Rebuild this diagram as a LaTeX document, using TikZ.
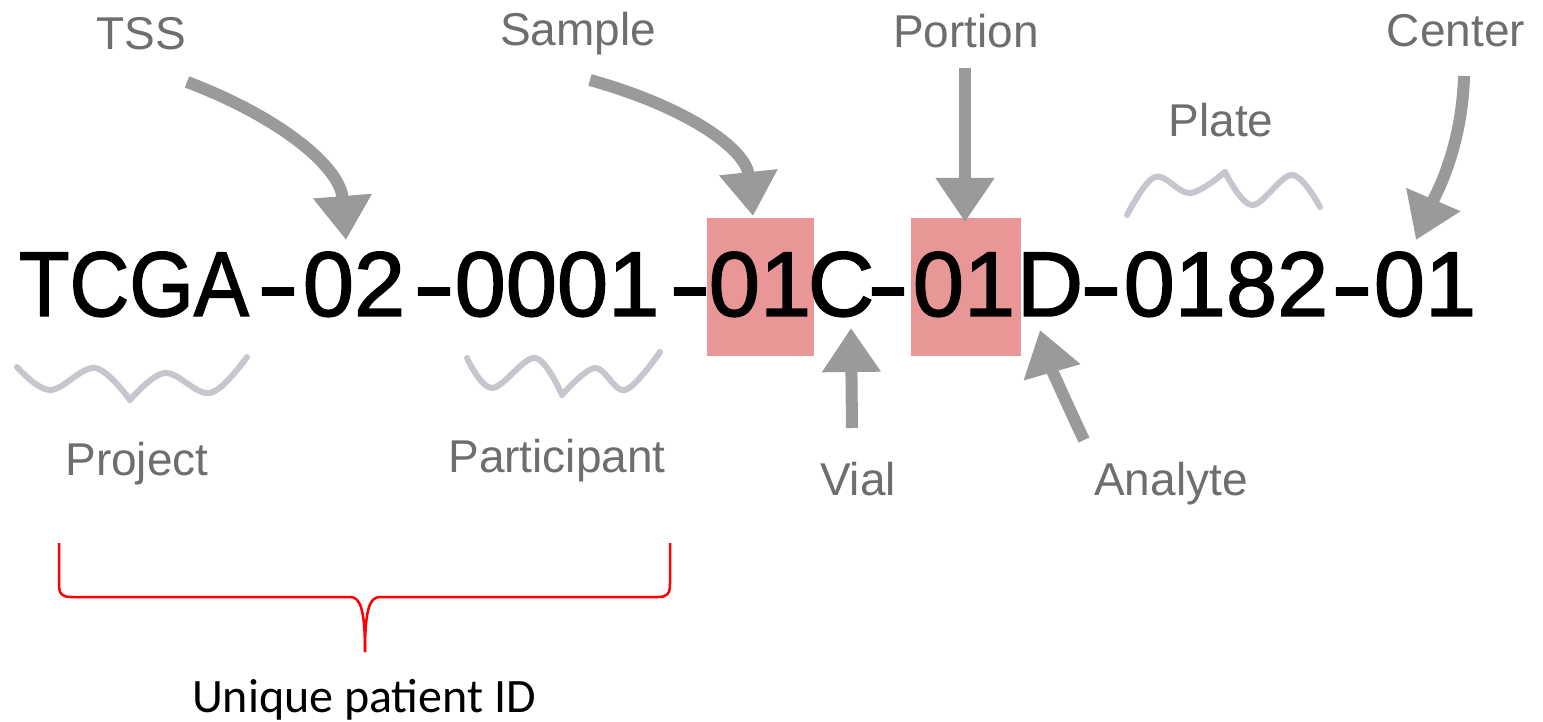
\documentclass[tikz,border=0pt]{standalone}
\usepackage{fontspec}
\usepackage{graphicx}
\setmainfont{Liberation Sans}
\newfontfamily\barfont[FakeBold=1.6]{Liberation Sans}
\newfontfamily\calibfont{Carlito}
\usetikzlibrary{arrows.meta}
\definecolor{arrowgray}{HTML}{9A9A9A}
\definecolor{labelgray}{HTML}{6E6E6E}
\definecolor{wavegray}{HTML}{C6C6CE}
\definecolor{pinkbox}{HTML}{E99696}
\definecolor{bracered}{HTML}{FF0000}
\newcommand{\bdash}{\scalebox{1.35}[1]{-}}
\begin{document}
\begin{tikzpicture}[x=1pt,y=-1pt,
  seg/.style={inner sep=0pt, anchor=base, font=\barfont\fontsize{92}{92}\selectfont},
  lab/.style={inner sep=0pt, anchor=base, text=labelgray, font=\fontsize{46}{46}\selectfont},
  garrow/.style={draw=arrowgray, line width=12pt, -{Triangle[width=56pt,length=44pt]}},
  wave/.style={draw=wavegray, line width=6pt, line cap=round},
  brace/.style={draw=bracered, line width=2.5pt}]
\useasboundingbox (0,0) rectangle (1543,722);
% pink highlight boxes
\fill[pinkbox] (707,218) rectangle (814,356);
\fill[pinkbox] (911,218) rectangle (1021,356);
% barcode segments
\node[seg] (tcga) at (134,316) {\scalebox{0.9}[1]{TCGA}};
\node[seg] (d1) at (278,316) {\bdash};
\node[seg] (tss2) at (354,316) {02};
\node[seg] (d2) at (434,316) {\bdash};
\node[seg] (part) at (557,316) {0001};
\node[seg] (d3) at (690,316) {\bdash};
\node[seg] (samp) at (760,316) {01};
\node[seg] (vial) at (841,316) {C};
\node[seg] (d4) at (888,316) {\bdash};
\node[seg] (port) at (964,316) {01};
\node[seg] (anal) at (1050,316) {D};
\node[seg] (d5) at (1101,316) {\bdash};
\node[seg] (plate) at (1226,316) {0182};
\node[seg] (d6) at (1352,316) {\bdash};
\node[seg] (cent) at (1425,316) {01};
% labels
\node[lab] (lTSS) at (141,50) {TSS};
\node[lab] (lSample) at (578,46) {Sample};
\node[lab] (lPortion) at (966,48) {Portion};
\node[lab] (lCenter) at (1456,47) {Center};
\node[lab] (lPlate) at (1221,137) {Plate};
\node[lab] (lProject) at (137,475) {Project};
\node[lab] (lPart) at (557,472) {Participant};
\node[lab] (lVial) at (858,495) {Vial};
\node[lab] (lAnal) at (1171,495) {Analyte};
% arrow end points
\coordinate (aTSSs) at (187,82);
\coordinate (aTSSe) at (346,240);
\coordinate (aSamps) at (590,80);
\coordinate (aSampe) at (753,216);
\coordinate (aPorts) at (965,68);
\coordinate (aPorte) at (965,222);
\coordinate (aCents) at (1464,76);
\coordinate (aCente) at (1416,240);
\coordinate (aVials) at (852,428);
\coordinate (aViale) at (851,328);
\coordinate (aAnals) at (1084,440);
\coordinate (aAnale) at (1040,330);
% arrows
\draw[garrow] (aTSSs) .. controls (275,115) and (340,165) .. (aTSSe);
\draw[garrow] (aSamps) .. controls (690,108) and (746,150) .. (aSampe);
\draw[garrow] (aPorts) -- (aPorte);
\draw[garrow] (aCents) .. controls (1462,150) and (1434,198) .. (aCente);
\draw[garrow] (aVials) -- (aViale);
\draw[garrow] (aAnals) .. controls (1065,400) and (1050,365) .. (aAnale);
% wavy braces
\draw[wave] plot[smooth, tension=0.6] coordinates {(17,367) (50,390) (95,368) (130,400)};
\draw[wave] plot[smooth, tension=0.6] coordinates {(130,400) (165,373) (210,393) (247,357)};
\draw[wave] plot[smooth, tension=0.6] coordinates {(467,358) (492,388) (535,358) (562,395)};
\draw[wave] plot[smooth, tension=0.6] coordinates {(562,395) (595,368) (625,390) (660,352)};
\draw[wave] plot[smooth, tension=0.6] coordinates {(1127,215) (1155,177) (1190,193) (1225,172)};
\draw[wave] plot[smooth, tension=0.6] coordinates {(1225,172) (1252,205) (1292,175) (1320,207)};
% red brace
\coordinate (bL) at (59,543);
\coordinate (bR) at (670,543);
\coordinate (bC) at (365,652);
\draw[brace] (bL) -- (59,584) .. controls (59,594) and (62,597) .. (71,597) -- (350,597)
  .. controls (360,597) and (365,608) .. (bC);
\draw[brace] (bR) -- (670,584) .. controls (670,594) and (667,597) .. (658,597) -- (380,597)
  .. controls (370,597) and (365,608) .. (bC);
\node[inner sep=0pt, anchor=base, font=\calibfont\fontsize{48}{48}\selectfont] (uid) at (364,712) {Unique patient ID};
\end{tikzpicture}
\end{document}
